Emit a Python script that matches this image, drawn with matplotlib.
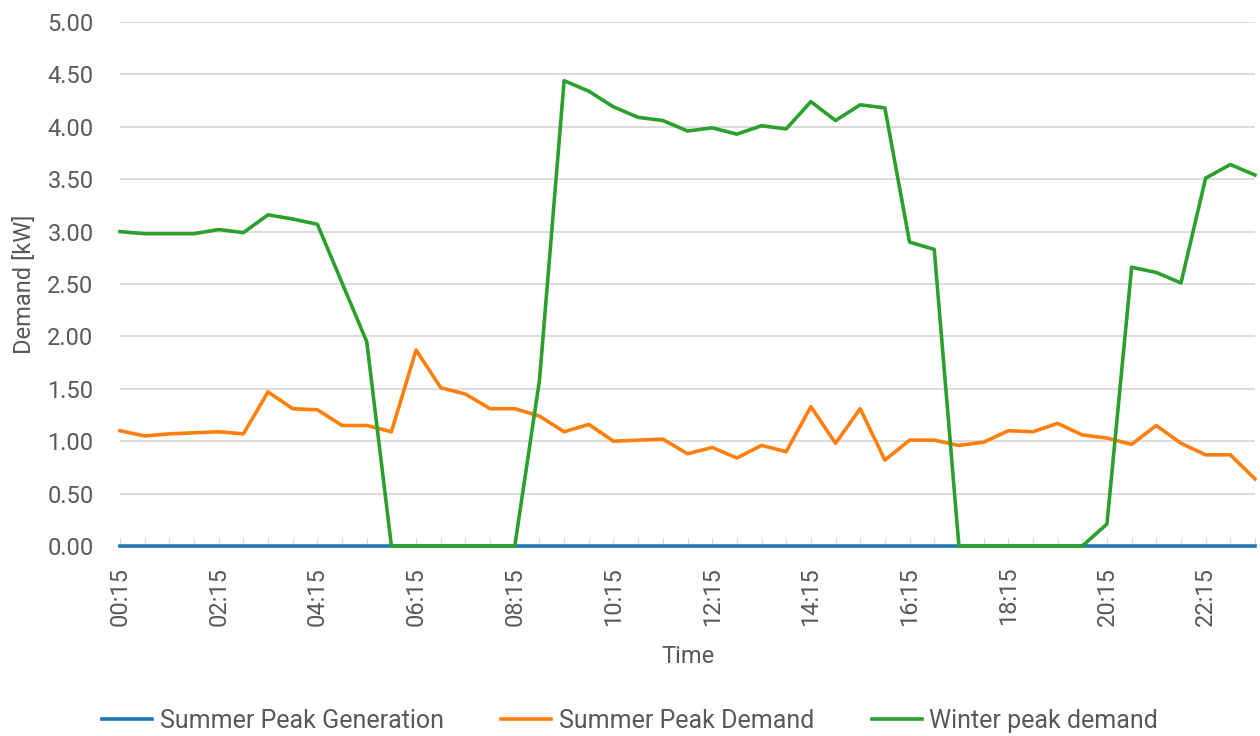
import matplotlib
matplotlib.use("Agg")
import matplotlib.pyplot as plt

# half-hourly samples, 00:15 .. 23:15
times = [f"{(15 + 30 * i) // 60:02d}:{(15 + 30 * i) % 60:02d}" for i in range(47)]

summer_gen = [0.0] * 47

summer_demand = [
    1.10, 1.05, 1.07, 1.08, 1.09, 1.07, 1.47, 1.31, 1.30, 1.15,
    1.15, 1.09, 1.87, 1.51, 1.45, 1.31, 1.31, 1.24, 1.09, 1.16,
    1.00, 1.01, 1.02, 0.88, 0.94, 0.84, 0.96, 0.90, 1.33, 0.98,
    1.31, 0.82, 1.01, 1.01, 0.96, 0.99, 1.10, 1.09, 1.17, 1.06,
    1.03, 0.97, 1.15, 0.98, 0.87, 0.87, 0.64,
]

winter_demand = [
    3.00, 2.98, 2.98, 2.98, 3.02, 2.99, 3.16, 3.12, 3.07, 2.51,
    1.95, 0.00, 0.00, 0.00, 0.00, 0.00, 0.00, 1.58, 4.44, 4.34,
    4.19, 4.09, 4.06, 3.96, 3.99, 3.93, 4.01, 3.98, 4.24, 4.06,
    4.21, 4.18, 2.90, 2.83, 0.00, 0.00, 0.00, 0.00, 0.00, 0.00,
    0.21, 2.66, 2.61, 2.51, 3.51, 3.64, 3.54,
]

plt.rcParams["font.family"] = ["Roboto", "DejaVu Sans"]
text_col = "#595959"
fs = 17

fig = plt.figure(figsize=(12.6, 7.36), dpi=100)
ax = fig.add_axes([120 / 1260, 1 - 546 / 736, 1135 / 1260, 524 / 736])

x = list(range(len(times)))
ax.plot(x, summer_gen, color="#1f77b4", lw=2.6, label="Summer Peak Generation",
        zorder=3, clip_on=False)
ax.plot(x, summer_demand, color="#ff7f0e", lw=2.6, label="Summer Peak Demand",
        zorder=3, clip_on=False)
ax.plot(x, winter_demand, color="#2ca02c", lw=2.6, label="Winter peak demand",
        zorder=3, clip_on=False)

ax.set_xlim(0, len(times) - 1)
ax.set_ylim(0, 5)
ax.set_yticks([i * 0.5 for i in range(11)])
ax.set_yticklabels([f"{i * 0.5:.2f}" for i in range(11)])
ax.yaxis.grid(True, color="#d9d9d9", lw=1.3)
ax.set_axisbelow(True)

ax.set_xticks(x)
ax.set_xticklabels([t if i % 4 == 0 else "" for i, t in enumerate(times)], rotation=90)
ax.tick_params(axis="x", direction="in", length=6, color="#d9d9d9", pad=15,
               labelsize=fs, labelcolor=text_col)
ax.tick_params(axis="y", length=0, pad=19, labelsize=fs, labelcolor=text_col)

for s in ["top", "right", "left"]:
    ax.spines[s].set_visible(False)
ax.spines["bottom"].set_color("#d9d9d9")

ax.set_xlabel("Time", fontsize=fs, color=text_col, labelpad=14)
ax.set_ylabel("Demand [kW]", fontsize=fs, color=text_col, labelpad=8)

fig.legend(loc="center", bbox_to_anchor=(0.5, 1 - 721 / 736), ncol=3, frameon=False,
           fontsize=18, labelcolor=text_col, handlelength=2.0, columnspacing=2.3,
           handletextpad=0.3)

fig.savefig("out.png", dpi=100)
